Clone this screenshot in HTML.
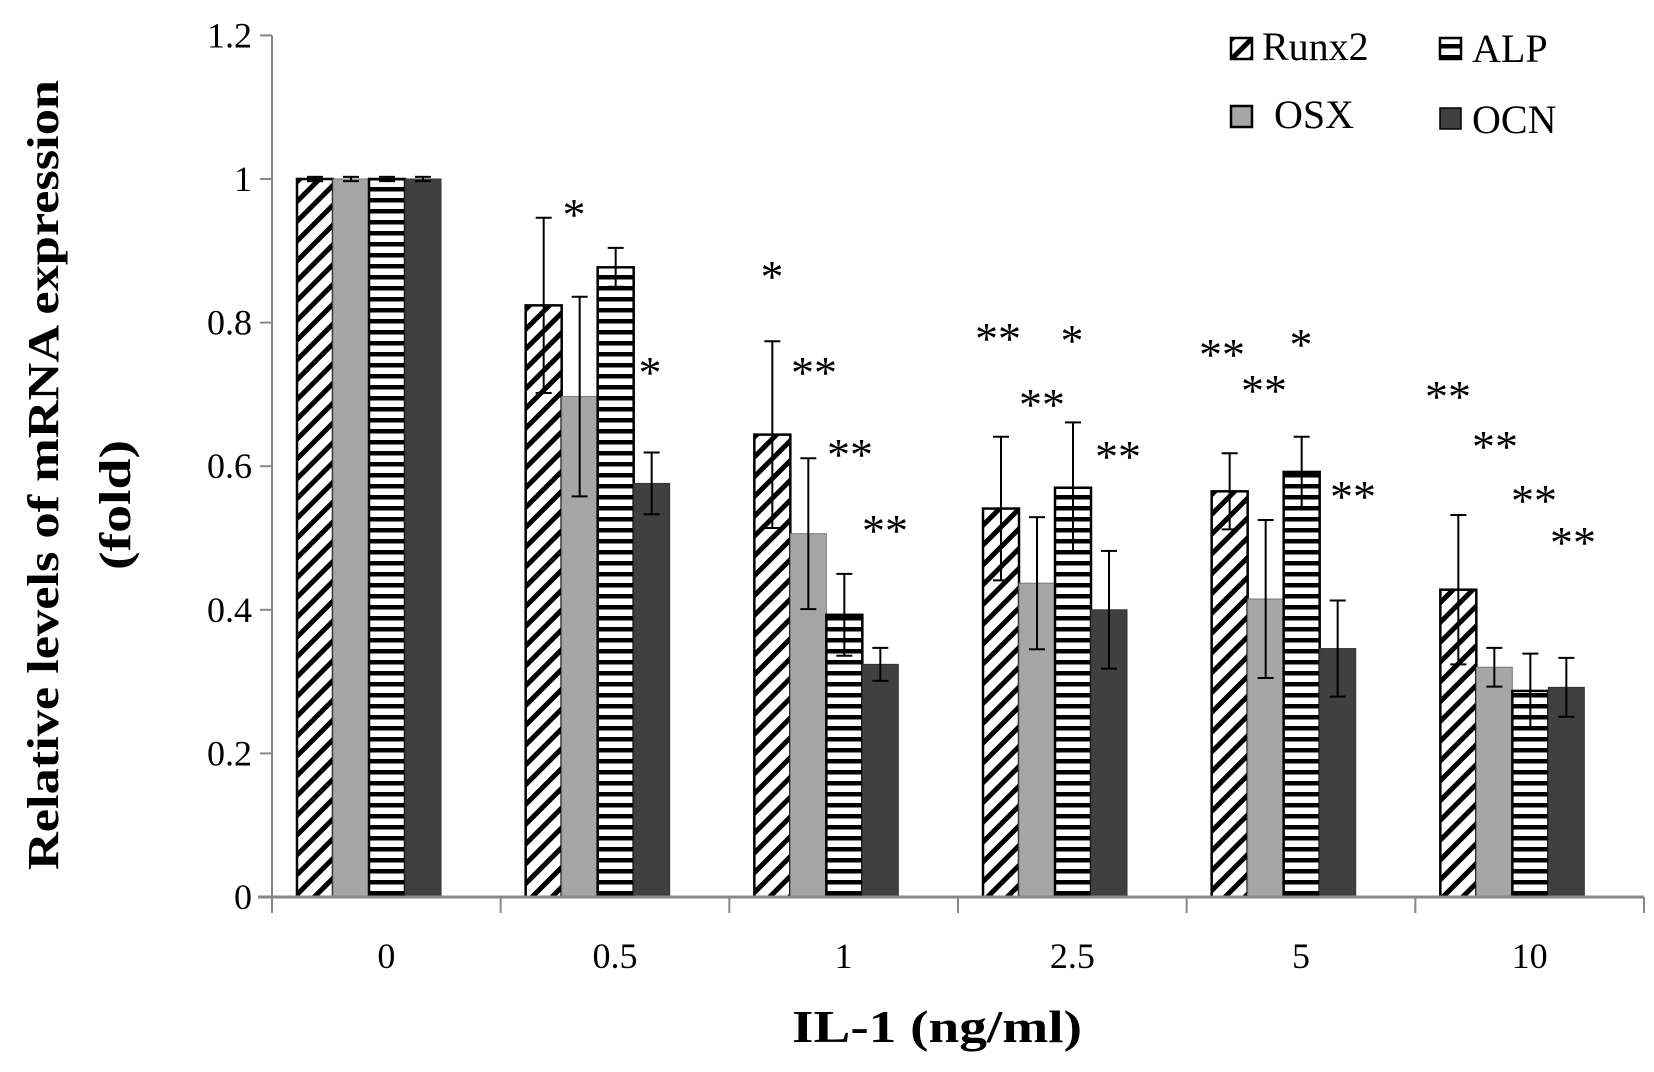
<!DOCTYPE html>
<html><head><meta charset="utf-8"><style>
html,body{margin:0;padding:0;background:#fff;}
svg{display:block;font-family:"Liberation Serif",serif;}
</style></head><body>
<svg id="chart" width="1654" height="1072" viewBox="0 0 1654 1072" xmlns="http://www.w3.org/2000/svg">
<defs>
<pattern id="diag" patternUnits="userSpaceOnUse" width="14" height="14" patternTransform="rotate(45)">
<rect width="14" height="14" fill="#fff"/><rect x="0" y="0" width="5" height="14" fill="#000"/>
</pattern>
<pattern id="horiz" patternUnits="userSpaceOnUse" width="10" height="11">
<rect width="10" height="11" fill="#fff"/><rect x="0" y="0" width="10" height="4.5" fill="#000"/>
</pattern>
</defs>
<g id="plot"></g>
<text transform="translate(58,475) rotate(-90)" text-anchor="middle" font-size="44" font-weight="bold" textLength="790" lengthAdjust="spacingAndGlyphs">Relative levels of mRNA expression</text>
<text transform="translate(130,505) rotate(-90)" text-anchor="middle" font-size="44" font-weight="bold" textLength="130" lengthAdjust="spacingAndGlyphs">(fold)</text>
<text x="937" y="1042" text-anchor="middle" font-size="46" font-weight="bold" textLength="290" lengthAdjust="spacingAndGlyphs">IL-1 (ng/ml)</text>
<g font-size="40">
<rect x="1231" y="38" width="21" height="21" fill="url(#diag)" stroke="#000" stroke-width="2.5"/>
<text x="1262" y="60">Runx2</text>
<rect x="1440" y="38" width="21" height="21" fill="url(#horiz)" stroke="#000" stroke-width="2.5"/>
<text x="1472" y="62">ALP</text>
<rect x="1231" y="106" width="21" height="21" fill="#a6a6a6" stroke="#000" stroke-width="2.5"/>
<text x="1274" y="128">OSX</text>
<rect x="1440" y="108" width="21" height="21" fill="#404040" stroke="#000" stroke-width="1.5"/>
<text x="1472" y="133">OCN</text>
</g>
</svg>
<script>
const categories = ["0","0.5","1","2.5","5","10"];
const seriesNames = ["Runx2","OSX","ALP","OCN"];
const runx2 = [1.0,0.824,0.644,0.541,0.565,0.428];
const osx   = [1.0,0.697,0.506,0.437,0.415,0.320];
const alp   = [1.0,0.877,0.393,0.570,0.592,0.287];
const ocn   = [1.0,0.576,0.324,0.400,0.346,0.292];
const runx2Err = [0.003,0.122,0.13,0.10,0.053,0.104];
const osxErr   = [0.003,0.139,0.105,0.092,0.11,0.027];
const alpErr   = [0.003,0.027,0.057,0.091,0.049,0.052];
const ocnErr   = [0.003,0.043,0.023,0.082,0.067,0.041];
const yTicks = [0,0.2,0.4,0.6,0.8,1,1.2];
const yTickLabels = ["0","0.2","0.4","0.6","0.8","1","1.2"];
const sigLabels = [
  ["","","",""],
  ["*","","","*"],
  ["*","**","**","**"],
  ["**","**","*","**"],
  ["**","**","*","**"],
  ["**","**","**","**"]
];
const NS="http://www.w3.org/2000/svg";
const plot=document.getElementById('plot');
const X0=272, X1=1644, Y0=897, PERU=718;
const GW=(X1-X0)/categories.length, BW=36, BOFF=25;
function y(v){return Y0-v*PERU;}
function gx(i){return X0+i*GW;}
function mk(tag,attrs){const e=document.createElementNS(NS,tag);for(const k in attrs)e.setAttribute(k,attrs[k]);plot.appendChild(e);return e;}
const series=[runx2,osx,alp,ocn], errs=[runx2Err,osxErr,alpErr,ocnErr];
const fills=["url(#diag)","#a6a6a6","url(#horiz)","#404040"];
const strokes=["#000","#777","#000","#333"];
const sw=[2.5,1,2.5,1];
categories.forEach((c,ci)=>{
  series.forEach((s,si)=>{
    const bx=gx(ci)+BOFF+si*BW;
    const r=mk('rect',{x:bx,y:y(s[ci]),width:BW,height:Y0-y(s[ci]),fill:fills[si],stroke:strokes[si],'stroke-width':sw[si]});
    
    
  });
});
categories.forEach((c,ci)=>{
  series.forEach((s,si)=>{
    const cx=gx(ci)+BOFF+si*BW+BW/2;
    const hi=y(s[ci]+errs[si][ci]), lo=y(Math.max(0,s[ci]-errs[si][ci]));
    const g=document.createElementNS(NS,'g');
    
    
    g.setAttribute('stroke','#000');g.setAttribute('stroke-width','2');
    plot.appendChild(g);
    [[cx,hi,cx,lo],[cx-8,hi,cx+8,hi],[cx-8,lo,cx+8,lo]].forEach(p=>{
      const l=document.createElementNS(NS,'line');
      l.setAttribute('x1',p[0]);l.setAttribute('y1',p[1]);l.setAttribute('x2',p[2]);l.setAttribute('y2',p[3]);
      g.appendChild(l);
    });
  });
});
const sigPos = [
  [null,null,null,null],
  [[574,228],null,null,[650,386]],
  [[772,290],[814,386],[850,468],[885,544]],
  [[998,352],[1042,418],[1072,354],[1118,470]],
  [[1222,368],[1264,404],[1301,358],[1353,510]],
  [[1448,410],[1495,460],[1534,514],[1573,556]]
];
sigLabels.forEach((row,ci)=>{
  row.forEach((lab,si)=>{
    if(!lab||!sigPos[ci][si])return;
    const t=mk('text',{x:sigPos[ci][si][0],y:sigPos[ci][si][1]+2,'text-anchor':'middle','font-size':'46'});
    t.textContent=lab;
    
    
  });
});
const ya=mk('line',{x1:X0,y1:y(1.2),x2:X0,y2:Y0+12,stroke:'#888','stroke-width':2});


const xa=mk('line',{x1:X0-14,y1:Y0,x2:X1,y2:Y0,stroke:'#888','stroke-width':3});


yTicks.forEach((v,i)=>{
  const l=mk('line',{x1:X0-12,y1:y(v),x2:X0,y2:y(v),stroke:'#888','stroke-width':2});
  
  
  const t=mk('text',{x:X0-20,y:y(v)+12,'text-anchor':'end','font-size':'36'});
  t.textContent=yTickLabels[i];
  
  
});
for(let i=0;i<=categories.length;i++){
  const l=mk('line',{x1:gx(i),y1:Y0,x2:gx(i),y2:Y0+16,stroke:'#888','stroke-width':2});
  
  
}
categories.forEach((c,ci)=>{
  const t=mk('text',{x:gx(ci)+GW/2,y:968,'text-anchor':'middle','font-size':'36'});
  t.textContent=c;
  
  
});
</script>
</body></html>
